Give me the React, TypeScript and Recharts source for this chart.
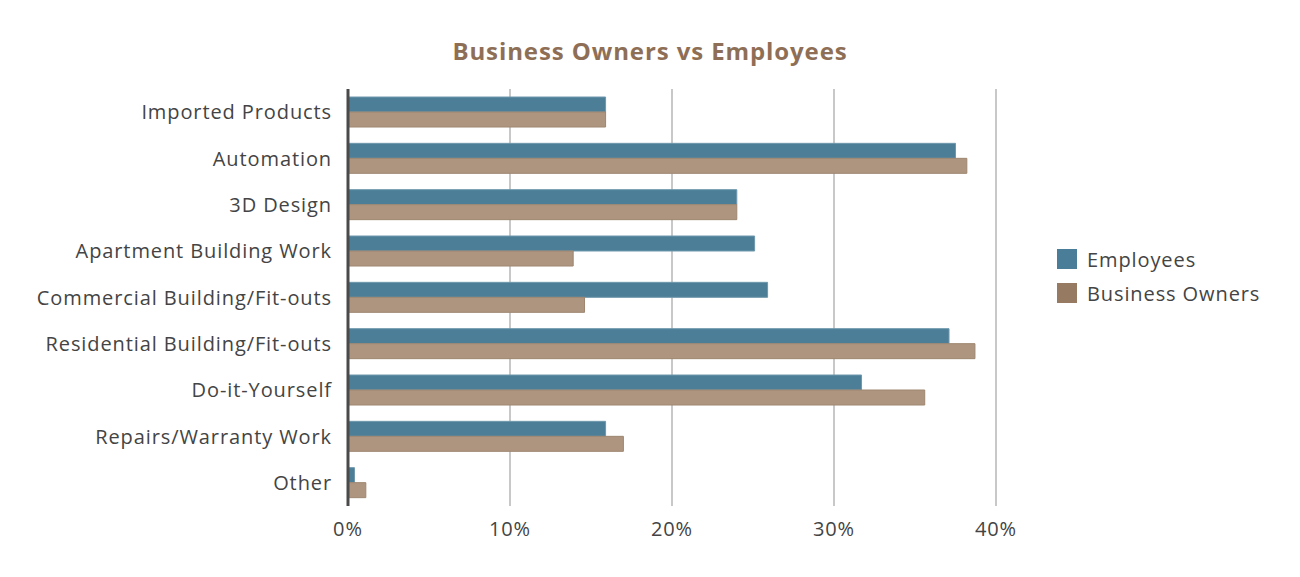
import React from 'react';
import { BarChart, Bar, XAxis, YAxis, CartesianGrid } from 'recharts';

const categories = [
  'Imported Products',
  'Automation',
  '3D Design',
  'Apartment Building Work',
  'Commercial Building/Fit-outs',
  'Residential Building/Fit-outs',
  'Do-it-Yourself',
  'Repairs/Warranty Work',
  'Other',
];
const employees = [15.9, 37.5, 24.0, 25.1, 25.9, 37.1, 31.7, 15.9, 0.4];
const businessOwners = [15.9, 38.2, 24.0, 13.9, 14.6, 38.7, 35.6, 17.0, 1.1];
const xTicks = [0, 10, 20, 30, 40];

const data = categories.map((name, i) => ({
  name,
  employees: employees[i],
  owners: businessOwners[i],
}));

const FONT = '"Open Sans", "Noto Sans", sans-serif';
const tickStyle = { fontFamily: FONT, fontSize: 20, fill: '#444', letterSpacing: 0.9 };

const LegendBox = () => (
  <div
    style={{
      position: 'absolute',
      left: 1057,
      top: 242,
      fontFamily: FONT,
      fontSize: 20,
      letterSpacing: 0.9,
      color: '#444',
    }}
  >
    {[
      { label: 'Employees', color: '#4a7d97' },
      { label: 'Business Owners', color: '#977a62' },
    ].map((item) => (
      <div key={item.label} style={{ display: 'flex', alignItems: 'center', height: 34 }}>
        <span style={{ width: 20, height: 20, background: item.color, display: 'inline-block', marginRight: 10 }} />
        <span>{item.label}</span>
      </div>
    ))}
  </div>
);

export default function App() {
  return (
    <div style={{ position: 'relative', width: 1300, height: 577, background: '#fff' }}>
      <style>{'body{margin:0}'}</style>
      <div
        style={{
          position: 'absolute',
          top: 34,
          left: 0,
          width: 1300,
          textAlign: 'center',
          fontFamily: FONT,
          fontWeight: 700,
          fontSize: 24,
          letterSpacing: 0.9,
          color: '#8e6f56',
          zIndex: 1,
        }}
      >
        Business Owners vs Employees
      </div>
      <BarChart
        width={1300}
        height={577}
        data={data}
        layout="vertical"
        margin={{ top: 89, right: 304, bottom: 0, left: 0 }}
        barSize={15}
        barGap={0}
      >
        <CartesianGrid horizontal={false} stroke="#c8c8c8" strokeWidth={2} />
        <XAxis
          type="number"
          domain={[0, 40]}
          ticks={xTicks}
          tickFormatter={(v) => `${v}%`}
          axisLine={false}
          tickLine={false}
          tickMargin={10}
          height={71}
          tick={tickStyle}
        />
        <YAxis
          type="category"
          dataKey="name"
          width={348}
          axisLine={{ stroke: '#4a4a4a', strokeWidth: 3 }}
          tickLine={false}
          tickMargin={10}
          tick={tickStyle}
          interval={0}
        />
        <Bar dataKey="employees" name="Employees" fill="#4d7e98" stroke="#6f98ad" strokeWidth={1} isAnimationActive={false} />
        <Bar dataKey="owners" name="Business Owners" fill="#ad9580" stroke="#9e8670" strokeWidth={1} isAnimationActive={false} />
      </BarChart>
      <LegendBox />
    </div>
  );
}
